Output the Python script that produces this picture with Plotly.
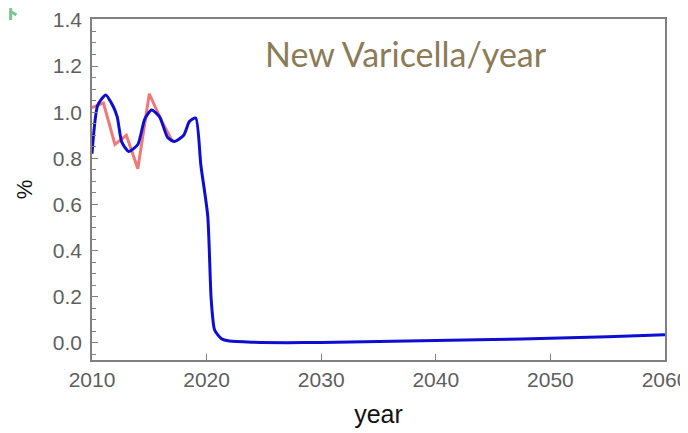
import plotly.graph_objects as go

# Blue model curve (smooth)
blue_years = [2010, 2010.5, 2011.2, 2011.8, 2012.2, 2012.6, 2013.2, 2014.0, 2014.6, 2015.2,
              2015.9, 2016.6, 2017.2, 2018.0, 2018.5, 2019.05, 2019.5, 2020.1, 2020.4, 2020.7,
              2021.3, 2022, 2024, 2027, 2030, 2035, 2040, 2045, 2050, 2055, 2060]
blue_values = [0.82, 1.03, 1.075, 1.03, 0.98, 0.87, 0.83, 0.86, 0.97, 1.01,
               0.98, 0.89, 0.873, 0.90, 0.96, 0.975, 0.77, 0.55, 0.19, 0.056,
               0.018, 0.008, 0.003, 0.001, 0.002, 0.006, 0.010, 0.015, 0.020, 0.027, 0.035]

# Red observed data (yearly)
red_years = [2010, 2011, 2012, 2013, 2014, 2015, 2016, 2017]
red_values = [1.02, 1.04, 0.86, 0.90, 0.755, 1.08, 0.97, 0.875]

x_ticks = [2010, 2020, 2030, 2040, 2050, 2060]
y_ticks = [0.0, 0.2, 0.4, 0.6, 0.8, 1.0, 1.2, 1.4]

fig = go.Figure()
fig.add_trace(go.Scatter(x=red_years, y=red_values, mode="lines",
                         line=dict(color="rgba(240,95,95,0.85)", width=3),
                         showlegend=False))
fig.add_trace(go.Scatter(x=blue_years, y=blue_values, mode="lines",
                         line=dict(color="#0E0ED2", width=3, shape="spline", smoothing=0.6),
                         showlegend=False))

axis_common = dict(showgrid=False, zeroline=False, showline=True, linecolor="#808080",
                   linewidth=1.5, mirror=True, ticks="inside", tickcolor="#808080",
                   automargin=False, ticklabeloverflow="allow",
                   tickfont=dict(family="Liberation Sans, Arial", size=21, color="#5e5e5e"))

fig.update_xaxes(range=[2010, 2060], tickvals=x_ticks, ticklen=6, tickwidth=1,
                 title=dict(text="year", font=dict(family="Liberation Sans, Arial", size=25, color="#111"),
                            standoff=16),
                 **axis_common)
fig.update_yaxes(range=[-0.074, 1.404], tickvals=y_ticks, tickformat=".1f", ticklen=6, tickwidth=1,
                 ticklabelstandoff=4,
                 minor=dict(dtick=0.05, tick0=0, ticks="inside", ticklen=4, tickcolor="#808080"),
                 title=dict(text="%", font=dict(family="Liberation Sans, Arial", size=22, color="#111"),
                            standoff=14),
                 **axis_common)

fig.add_annotation(text="New Varicella/year", x=0.548, y=0.90, xref="paper", yref="paper",
                   showarrow=False, font=dict(family="Lato, Open Sans", size=34, color="#8B7B57"),
                   xanchor="center", yanchor="middle")

# small green mark in the top-left corner
fig.add_shape(type="line", xref="paper", yref="paper", x0=-0.142, x1=-0.142, y0=1.032, y1=0.997,
              line=dict(color="#7CC58E", width=3))
fig.add_shape(type="line", xref="paper", yref="paper", x0=-0.142, x1=-0.132, y0=1.022, y1=1.012,
              line=dict(color="#7CC58E", width=3))

# page body has an 8px margin, so the figure is shrunk/shifted to keep the plot area in place
fig.update_layout(width=680, height=425, plot_bgcolor="white", paper_bgcolor="white",
                  margin=dict(l=84, r=23, t=11, b=73))

fig.write_html("out.html")
